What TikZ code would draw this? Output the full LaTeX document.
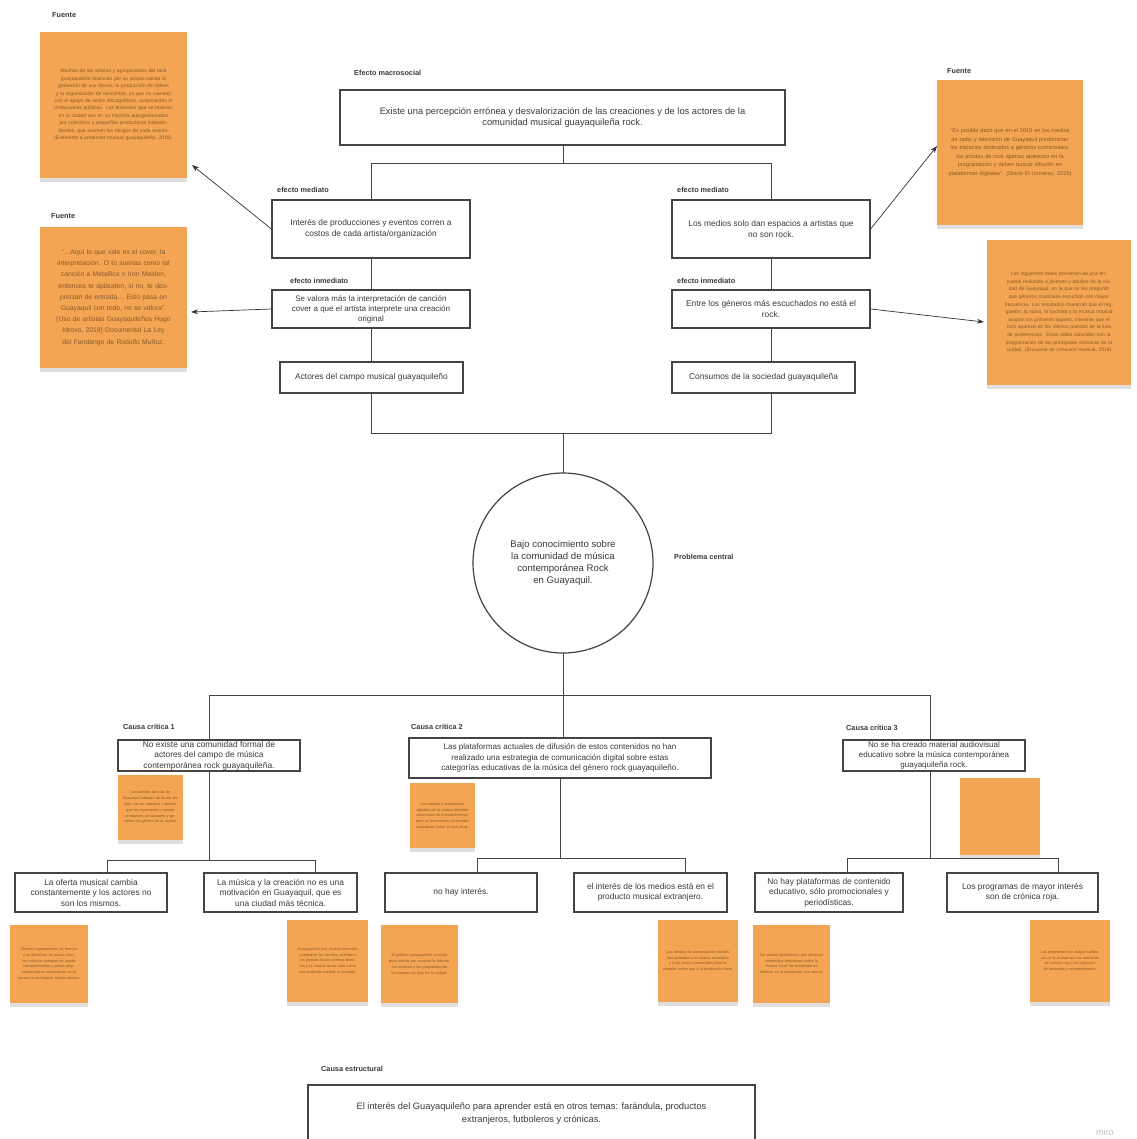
\documentclass[tikz,border=0pt]{standalone}
\usepackage{fontspec}
\setmainfont{Liberation Sans}
\usetikzlibrary{shadows,arrows.meta}
\definecolor{noteor}{HTML}{F3A553}
\definecolor{notetx}{HTML}{8B5A2B}
\definecolor{ln}{HTML}{444444}
\definecolor{tx}{HTML}{3A3A3A}
\begin{document}
\begin{tikzpicture}[x=1pt,y=-1pt,
 box/.style={draw=ln, line width=1.2pt, fill=white, align=center, inner sep=1pt, text=tx, font=\fontsize{8.4}{10.5}\selectfont},
 lab/.style={anchor=west, inner sep=0pt, font=\bfseries\fontsize{7.3}{9}\selectfont, text=tx},
 conn/.style={draw=ln, line width=0.9pt},
 arr/.style={draw=black!80, line width=0.7pt, -{Stealth[length=7pt,width=5pt]}},
 note/.style={fill=noteor, align=center, inner sep=0pt, text=notetx, font=\fontsize{5}{7.4}\selectfont, drop shadow={shadow xshift=0pt, shadow yshift=-4pt, opacity=0.25}},
 tinynote/.style={note, font=\fontsize{3.8}{5.8}\selectfont},
]
\path[use as bounding box, fill=white] (0,0) rectangle (1136,1139);
\clip (0,0) rectangle (1136,1139);

% ---------- labels ----------
\node[lab] (lf1) at (52,15) {Fuente};
\node[lab] (lf2) at (51,216) {Fuente};
\node[lab] (lf3) at (947,71) {Fuente};
\node[lab] (lmac) at (354,73) {Efecto macrosocial};
\node[lab] (lem1) at (277,190) {efecto mediato};
\node[lab] (lei1) at (290,281) {efecto inmediato};
\node[lab] (lem2) at (677,190) {efecto mediato};
\node[lab] (lei2) at (677,281) {efecto inmediato};
\node[lab] (lpc) at (674,557) {Problema central};
\node[lab] (lc1) at (123,727) {Causa crítica 1};
\node[lab] (lc2) at (411,727) {Causa crítica 2};
\node[lab] (lc3) at (846,728) {Causa crítica 3};
\node[lab] (lce) at (321,1069) {Causa estructural};

% ---------- sticky notes ----------
\node[note, minimum width=147pt, minimum height=146pt, text width=122pt] (n1) at (113.5,105)
 {Muchos de los artistas y agrupaciones del rock guayaquileño financian por su propia cuenta la grabación de sus discos, la producción de videos y la organización de conciertos, ya que no cuentan con el apoyo de sellos discográficos, auspiciantes ni instituciones públicas. Los festivales que se realizan en la ciudad son en su mayoría autogestionados por colectivos y pequeñas productoras independientes, que asumen los riesgos de cada evento. (Entrevista a productor musical guayaquileño, 2018).};
\node[note, minimum width=147pt, minimum height=141pt, text width=124pt, font=\fontsize{6.8}{11.2}\selectfont] (n2) at (113.5,297.5)
 {“…Aquí lo que vale es el cover, la interpretación. O tú suenas como tal canción a Metallica o Iron Maiden, entonces te aplauden, si no, te desprecian de entrada… Esto pasa en Guayaquil con todo, no se valora”. (Uso de artistas Guayaquileños Hugo Idrovo, 2018) Documental La Ley del Fandango de Rodolfo Muñoz.};
\node[note, minimum width=146pt, minimum height=145pt, text width=124pt, font=\fontsize{5.6}{8.6}\selectfont] (n3) at (1010,152.5)
 {“Es posible decir que en el 2015 en los medios de radio y televisión de Guayaquil predominan los espacios dedicados a géneros comerciales; los artistas de rock apenas aparecen en la programación y deben buscar difusión en plataformas digitales”. (Diario El Universo, 2015)};
\node[note, minimum width=144pt, minimum height=145pt, text width=120pt, font=\fontsize{5}{7.6}\selectfont] (n4) at (1059,312.5)
 {Los siguientes datos provienen de una encuesta realizada a jóvenes y adultos de la ciudad de Guayaquil, en la que se les preguntó qué géneros musicales escuchan con mayor frecuencia. Los resultados muestran que el reggaetón, la salsa, la bachata y la música tropical ocupan los primeros lugares, mientras que el rock aparece en los últimos puestos de la lista de preferencias. Estos datos coinciden con la programación de las principales emisoras de la ciudad. (Encuesta de consumo musical, 2018)};

\node[tinynote, minimum width=65pt, minimum height=65pt, text width=56pt] (nc1) at (150.5,807.5)
 {Las bandas de rock de Guayaquil trabajan de forma aislada, sin un colectivo o gremio que las represente y agrupe a músicos, productores y gestores del género en la ciudad.};
\node[tinynote, minimum width=65pt, minimum height=65pt, text width=56pt] (nc2) at (442.5,815.5)
 {Los medios y plataformas digitales de la ciudad difunden contenidos de entretenimiento, pero no desarrollan contenidos educativos sobre el rock local.};
\node[tinynote, minimum width=80pt, minimum height=77pt] (nc3) at (1000,816.5) {};

\node[tinynote, minimum width=78pt, minimum height=78pt, text width=68pt] (nb1) at (49,964)
 {Muchas agrupaciones se forman y se disuelven en pocos años; los músicos cambian de banda constantemente y pocas propuestas logran mantenerse en la escena local durante mucho tiempo.};
\node[tinynote, minimum width=81pt, minimum height=82pt, text width=70pt] (nb2) at (327.5,961)
 {Guayaquil es una ciudad comercial y portuaria; las familias orientan a los jóvenes hacia carreras técnicas y la música no es vista como una profesión estable ni rentable.};
\node[tinynote, minimum width=77pt, minimum height=78pt, text width=67pt] (nb3) at (419.5,964)
 {El público guayaquileño muestra poco interés por conocer la historia, los músicos y las propuestas de las bandas de rock de la ciudad.};
\node[tinynote, minimum width=80pt, minimum height=82pt, text width=70pt] (nb4) at (698,961)
 {Los medios de comunicación locales dan prioridad a la música extranjera y a los éxitos comerciales internacionales antes que a la producción local.};
\node[tinynote, minimum width=77pt, minimum height=78pt, text width=67pt] (nb5) at (791.5,964)
 {No existen plataformas que ofrezcan contenidos educativos sobre la música local; las existentes se enfocan en la promoción y la noticia.};
\node[tinynote, minimum width=80pt, minimum height=82pt, text width=70pt] (nb6) at (1070,961)
 {Los programas con mayor audiencia en la ciudad son los noticieros de crónica roja y los espacios de farándula y entretenimiento.};

% ---------- junction coordinates ----------
\coordinate (tC) at (563,163);
\coordinate (tL) at (371,163);
\coordinate (tR) at (771,163);
\coordinate (bL) at (371,433);
\coordinate (bR) at (771,433);
\coordinate (bC) at (563,433);
\coordinate (cC) at (563,695);
\coordinate (cL) at (209,695);
\coordinate (cR) at (930,695);
\coordinate (g1C) at (209,860);
\coordinate (g1L) at (107,860);
\coordinate (g1R) at (315,860);
\coordinate (g2C) at (560,858);
\coordinate (g2L) at (477,858);
\coordinate (g2R) at (685,858);
\coordinate (g3C) at (930,858);
\coordinate (g3L) at (847,858);
\coordinate (g3R) at (1058,858);
\coordinate (a1) at (192,165);
\coordinate (a2) at (191,312);
\coordinate (a3) at (937,146);
\coordinate (a4) at (984,322);

% ---------- connectors (behind boxes) ----------
\draw[conn] (tC) -- (563,140);
\draw[conn] (tL) -- (tR);
\draw[conn] (tL) -- (371,205);
\draw[conn] (tR) -- (771,205);
\draw[conn] (371,250) -- (371,300);
\draw[conn] (371,320) -- (371,370);
\draw[conn] (771,250) -- (771,300);
\draw[conn] (771,320) -- (771,370);
\draw[conn] (371,385) -- (bL) -- (bR) -- (771,385);
\draw[conn] (bC) -- (563,480);
\draw[conn] (563,640) -- (cC);
\draw[conn] (cL) -- (cR);
\draw[conn] (cL) -- (g1C);
\draw[conn] (cC) -- (563,745);
\draw[conn] (560,770) -- (g2C);
\draw[conn] (cR) -- (g3C);
\draw[conn] (g1L) -- (g1R);
\draw[conn] (g2L) -- (g2R);
\draw[conn] (g3L) -- (g3R);

% ---------- boxes ----------
\node[box, minimum width=445pt, minimum height=55pt, font=\fontsize{9.3}{11}\selectfont] (macro) at (562.5,117.5)
 {Existe una percepción errónea y desvalorización de las creaciones y de los actores de la\\comunidad musical guayaquileña rock.};
\node[box, minimum width=198pt, minimum height=58pt] (lm) at (371,229)
 {Interés de producciones y eventos corren a\\costos de cada artista/organización};
\node[box, minimum width=198pt, minimum height=38pt, font=\fontsize{8}{10}\selectfont] (li) at (371,309)
 {Se valora más la interpretación de canción\\cover a que el artista interprete una creación\\original};
\node[box, minimum width=183pt, minimum height=31pt] (la) at (371.5,377.5)
 {Actores del campo musical guayaquileño};
\node[box, minimum width=198pt, minimum height=58pt] (rm) at (771,229)
 {Los medios solo dan espacios a artistas que\\no son rock.};
\node[box, minimum width=198pt, minimum height=38pt] (ri) at (771,309)
 {Entre los géneros más escuchados no está el\\rock.};
\node[box, minimum width=183pt, minimum height=31pt] (ra) at (763.5,377.5)
 {Consumos de la sociedad guayaquileña};

\node[box, circle, minimum size=180pt, inner sep=0pt, font=\fontsize{9.6}{12.3}\selectfont] (prob) at (563,563)
 {Bajo conocimiento sobre\\la comunidad de música\\contemporánea Rock\\en Guayaquil.};

\node[box, minimum width=182pt, minimum height=31pt, inner sep=0pt] (c1) at (209,755.5)
 {No existe una comunidad formal de\\actores del campo de música\\contemporánea rock guayaquileña.};
\node[box, minimum width=302pt, minimum height=40pt, font=\fontsize{8.1}{10.4}\selectfont] (c2) at (560,758)
 {Las plataformas actuales de difusión de estos contenidos no han\\realizado una estrategia de comunicación digital sobre estas\\categorías educativas de la música del género rock guayaquileño.};
\node[box, minimum width=182pt, minimum height=31pt, inner sep=0pt, font=\fontsize{8}{10}\selectfont] (c3) at (934,755.5)
 {No se ha creado material audiovisual\\educativo sobre la música contemporánea\\guayaquileña rock.};

\node[box, minimum width=152pt, minimum height=39pt] (d1) at (91,892.5)
 {La oferta musical cambia\\constantemente y los actores no\\son los mismos.};
\node[box, minimum width=153pt, minimum height=39pt] (d2) at (280.5,892.5)
 {La música y la creación no es una\\motivación en Guayaquil, que es\\una ciudad más técnica.};
\node[box, minimum width=152pt, minimum height=39pt] (d3) at (461,892.5)
 {no hay interés.};
\node[box, minimum width=153pt, minimum height=39pt] (d4) at (650.5,892.5)
 {el interés de los medios está en el\\producto musical extranjero.};
\node[box, minimum width=148pt, minimum height=39pt] (d5) at (829,892.5)
 {No hay plataformas de contenido\\educativo, sólo promocionales y\\periodísticas.};
\node[box, minimum width=151pt, minimum height=39pt] (d6) at (1022.5,892.5)
 {Los programas de mayor interés\\son de crónica roja.};

\node[box, minimum width=447pt, minimum height=58pt, font=\fontsize{9.3}{13}\selectfont] (est) at (531.5,1114)
 {El interés del Guayaquileño para aprender está en otros temas: farándula, productos\\extranjeros, futboleros y crónicas.};

% ---------- connectors to second-level boxes ----------
\draw[conn] (g1L) -- (g1L |- d1.north);
\draw[conn] (g1R) -- (g1R |- d2.north);
\draw[conn] (g2L) -- (g2L |- d3.north);
\draw[conn] (g2R) -- (g2R |- d4.north);
\draw[conn] (g3L) -- (g3L |- d5.north);
\draw[conn] (g3R) -- (g3R |- d6.north);

% ---------- arrows to sources ----------
\draw[arr] (lm.west) -- (a1);
\draw[arr] (li.west) -- (a2);
\draw[arr] (rm.east) -- (a3);
\draw[arr] (ri.east) -- (a4);

\node[text=black!25, font=\fontsize{9}{10}\selectfont, anchor=west, inner sep=0pt] (miro) at (1096,1132) {miro};
\end{tikzpicture}
\end{document}
